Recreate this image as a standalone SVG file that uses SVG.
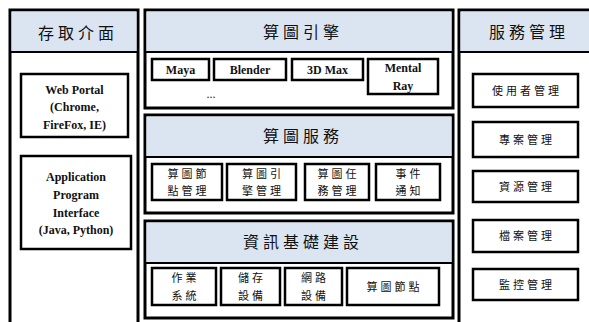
<svg xmlns="http://www.w3.org/2000/svg" width="589" height="322" viewBox="0 0 589 322">
<style>
.panel{fill:#fff;stroke:#000;stroke-width:3}
.hdr{fill:#dbe5f1}
.hl{stroke:#000;stroke-width:2}
.box{fill:#fff;stroke:#000;stroke-width:2.5}
.ht{font-family:"Noto Sans CJK TC","Noto Sans CJK SC",sans-serif;font-size:16px;letter-spacing:4px;text-anchor:middle;fill:#111}
.ct{font-family:"Noto Sans CJK TC","Noto Sans CJK SC",sans-serif;font-size:11px;letter-spacing:3px;text-anchor:middle;fill:#111}
.et{font-family:"Liberation Serif","Times New Roman",serif;font-size:12px;font-weight:bold;text-anchor:middle;fill:#111}
</style>
<rect width="589" height="322" fill="#fff"/>
<g id="access">
<rect class="panel" x="10" y="10" width="128" height="330"/>
<rect class="hdr" x="11.5" y="11.5" width="125" height="40.5"/>
<line class="hl" x1="10" y1="52" x2="138" y2="52"/>
<text class="ht" x="78" y="39">存取介面</text>
</g>
<g id="webportal">
<rect class="box" x="21" y="74" width="107" height="63"/>
<text class="et" x="74.5" y="94">Web Portal</text>
<text class="et" x="74.5" y="111">(Chrome,</text>
<text class="et" x="74.5" y="129">FireFox, IE)</text>
</g>
<g id="api">
<rect class="box" x="21" y="156" width="110" height="93"/>
<text class="et" x="76" y="181">Application</text>
<text class="et" x="76" y="199">Program</text>
<text class="et" x="76" y="217">Interface</text>
<text class="et" x="76" y="234">(Java, Python)</text>
</g>
<g id="engine">
<rect class="panel" x="145" y="10" width="308" height="98"/>
<rect class="hdr" x="146.5" y="11.5" width="305" height="40.5"/>
<line class="hl" x1="145" y1="52" x2="453" y2="52"/>
<text class="ht" x="303" y="38">算圖引擎</text>
<text class="et" x="211" y="98" style="font-weight:normal">...</text>
</g>
<g id="maya"><rect class="box" x="152" y="59" width="57" height="21"/><text class="et" x="180.5" y="74">Maya</text></g>
<g id="blender"><rect class="box" x="214" y="59" width="72" height="21"/><text class="et" x="250" y="74">Blender</text></g>
<g id="max3d"><rect class="box" x="292" y="59" width="71" height="21"/><text class="et" x="327.5" y="74">3D Max</text></g>
<g id="mentalray"><rect class="box" x="368" y="59" width="70" height="35"/><text class="et" x="403" y="72">Mental</text><text class="et" x="403" y="90">Ray</text></g>
<g id="service">
<rect class="panel" x="145" y="115" width="308" height="98"/>
<rect class="hdr" x="146.5" y="116.5" width="305" height="40.5"/>
<line class="hl" x1="145" y1="157" x2="453" y2="157"/>
<text class="ht" x="303" y="142">算圖服務</text>
</g>
<g id="nodemgmt"><rect class="box" x="152" y="164" width="70" height="36"/><text class="ct" x="188.5" y="178">算圖節</text><text class="ct" x="188.5" y="195">點管理</text></g>
<g id="enginemgmt"><rect class="box" x="227" y="164" width="69" height="36"/><text class="ct" x="263" y="178">算圖引</text><text class="ct" x="263" y="195">擎管理</text></g>
<g id="taskmgmt"><rect class="box" x="305" y="164" width="64" height="36"/><text class="ct" x="338.5" y="178">算圖任</text><text class="ct" x="338.5" y="195">務管理</text></g>
<g id="event"><rect class="box" x="376" y="164" width="64" height="36"/><text class="ct" x="409.5" y="178">事件</text><text class="ct" x="409.5" y="195">通知</text></g>
<g id="infra">
<rect class="panel" x="145" y="221" width="308" height="97"/>
<rect class="hdr" x="146.5" y="222.5" width="305" height="40.5"/>
<line class="hl" x1="145" y1="263" x2="453" y2="263"/>
<text class="ht" x="303" y="248">資訊基礎建設</text>
</g>
<g id="os"><rect class="box" x="152" y="268" width="64" height="37"/><text class="ct" x="185.5" y="282">作業</text><text class="ct" x="185.5" y="300">系統</text></g>
<g id="storage"><rect class="box" x="221" y="268" width="59" height="37"/><text class="ct" x="252" y="282">儲存</text><text class="ct" x="252" y="300">設備</text></g>
<g id="network"><rect class="box" x="285" y="268" width="57" height="37"/><text class="ct" x="315" y="282">網路</text><text class="ct" x="315" y="300">設備</text></g>
<g id="rendernode"><rect class="box" x="347" y="268" width="92" height="37"/><text class="ct" x="394.5" y="291">算圖節點</text></g>
<g id="svcmgmt">
<rect class="panel" x="459" y="10" width="140" height="330"/>
<rect class="hdr" x="460.5" y="11.5" width="137" height="40.5"/>
<line class="hl" x1="459" y1="52" x2="599" y2="52"/>
<text class="ht" x="529" y="38">服務管理</text>
</g>
<g id="usermgmt"><rect class="box" x="473" y="74" width="105" height="33"/><text class="ct" x="527" y="95">使用者管理</text></g>
<g id="projmgmt"><rect class="box" x="473" y="122" width="105" height="35"/><text class="ct" x="527" y="144">專案管理</text></g>
<g id="resmgmt"><rect class="box" x="473" y="171" width="105" height="31"/><text class="ct" x="527" y="191">資源管理</text></g>
<g id="filemgmt"><rect class="box" x="473" y="220" width="105" height="32"/><text class="ct" x="527" y="240">檔案管理</text></g>
<g id="monmgmt"><rect class="box" x="473" y="269" width="105" height="31"/><text class="ct" x="527" y="289">監控管理</text></g>
<g id="connectors"></g>
</svg>
